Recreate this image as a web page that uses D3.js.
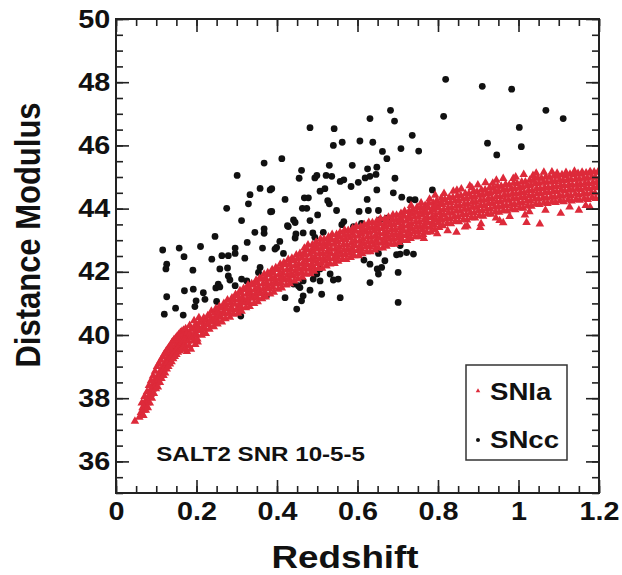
<!DOCTYPE html>
<html>
<head>
<meta charset="utf-8">
<script src="https://cdn.jsdelivr.net/npm/d3@7"></script>
<style>
  body { margin: 0; background: #fff; }
</style>
</head>
<body>
<div id="chart"></div>
<script>
// axis ticks
var xTicks = [0, 0.2, 0.4, 0.6, 0.8, 1, 1.2];
var xTickLabels = ["0", "0.2", "0.4", "0.6", "0.8", "1", "1.2"];
var yTicks = [36, 38, 40, 42, 44, 46, 48, 50];
var yTickLabels = ["36", "38", "40", "42", "44", "46", "48", "50"];

// SNcc : [redshift, distance modulus]
var snCc = [
  [0.819,48.09],[0.910,47.87],[0.983,47.78],[0.814,46.92],[1.068,47.11],[1.111,46.85],[1.002,46.57],[0.736,46.32],
  [0.923,46.07],[1.007,45.96],[0.708,45.90],[0.752,45.82],[0.946,45.70],[0.786,44.59],[0.710,44.36],[0.730,44.28],[0.743,44.28],
  [0.682,47.11],[0.631,46.85],[0.692,46.77],[0.482,46.56],[0.542,46.53],[0.540,46.00],[0.562,46.10],[0.606,46.14],[0.638,46.10],
  [0.662,45.81],[0.673,45.58],[0.412,45.58],[0.530,45.37],[0.587,45.37],[0.461,45.21],[0.625,45.26],[0.648,45.31],[0.455,44.96],
  [0.494,44.97],[0.499,45.05],[0.522,45.05],[0.536,45.02],[0.557,44.86],[0.566,44.91],[0.584,44.70],[0.602,44.83],[0.619,44.97],
  [0.631,45.02],[0.646,45.08],[0.693,44.96],[0.387,44.63],[0.507,44.55],[0.519,44.63],[0.648,44.59],[0.689,44.50],[0.420,44.29],
  [0.468,44.34],[0.478,44.34],[0.624,44.29],[0.526,44.25],[0.530,44.15],[0.387,43.91],[0.463,44.01],[0.474,44.01],[0.548,43.94],
  [0.604,43.91],[0.627,43.94],[0.652,43.94],[0.501,43.80],[0.482,43.62],[0.441,43.64],[0.426,43.46],[0.566,43.59],[0.561,43.49],
  [0.590,43.43],[0.610,43.53],[0.673,43.70],[0.656,43.65],[0.447,43.20],[0.465,43.23],[0.489,43.23],[0.494,43.09],[0.515,43.25],
  [0.407,42.96],[0.399,42.77],[0.416,42.58],[0.652,42.58],[0.668,42.35],[0.697,42.54],[0.631,42.24],[0.649,42.09],[0.652,41.93],
  [0.701,41.98],[0.616,42.37],[0.507,42.09],[0.499,41.93],[0.507,41.71],[0.540,41.74],[0.552,41.77],[0.631,41.66],[0.465,41.71],
  [0.453,41.56],[0.441,41.61],[0.482,41.42],[0.511,41.29],[0.557,41.18],[0.420,41.18],
  [0.368,45.44],[0.301,45.05],[0.358,44.64],[0.383,44.59],[0.333,44.44],[0.329,44.15],[0.275,44.01],[0.384,43.90],[0.312,43.62],
  [0.345,43.25],[0.368,43.36],[0.368,43.22],[0.246,43.12],[0.326,42.93],[0.210,42.80],[0.157,42.75],[0.116,42.69],[0.364,42.75],
  [0.296,42.75],[0.296,42.58],[0.263,42.51],[0.279,42.51],[0.238,42.40],[0.320,42.43],[0.169,42.48],[0.126,42.24],[0.124,42.09],
  [0.191,42.05],[0.258,42.09],[0.277,42.12],[0.279,41.87],[0.283,41.74],[0.358,42.14],[0.354,41.98],[0.312,41.77],[0.325,41.71],
  [0.395,42.72],[0.254,41.61],[0.248,41.49],[0.258,41.52],[0.296,41.56],[0.170,41.40],[0.192,41.45],[0.217,41.34],[0.126,41.21],
  [0.199,41.08],[0.196,40.90],[0.221,41.13],[0.148,40.85],[0.167,40.63],[0.120,40.66],[0.310,40.60],[0.374,41.24],[0.145,39.81],
  [0.250,41.06],[0.428,43.43],[0.445,43.56],[0.445,43.07],[0.457,41.50],[0.465,41.24],[0.461,41.08],[0.449,40.82],[0.532,41.93],
  [0.490,41.77],[0.701,41.03],[0.706,42.56],[0.722,42.61],[0.739,42.56],[0.706,42.83],[0.660,42.14]
];

// SNIa : [redshift, distance modulus]
var snIa = [
  [0.047,37.27],[0.062,37.55],[0.066,37.70],[0.069,37.62],[0.072,37.80],[0.075,37.95],[0.078,37.85],[0.081,38.05],[0.083,38.20],
  [0.086,38.12],[0.088,38.30],[0.091,38.28],[0.093,38.45],[0.096,38.38],[0.098,38.60],[0.101,38.48],[0.103,38.66],[0.105,38.58],
  [0.108,38.80],[0.110,38.70],[0.112,38.90],[0.114,38.82],[0.117,39.00],[0.119,38.92],[0.121,39.10],[0.123,39.02],[0.125,39.20],
  [0.127,39.12],[0.129,39.30],[0.131,39.18],[0.133,39.38],[0.135,39.28],[0.137,39.45],[0.139,39.35],[0.141,39.52],[0.143,39.43],
  [0.145,39.60],[0.147,39.50],[0.149,39.66],[0.151,39.56],[0.153,39.74],[0.155,39.62],[0.157,39.80],[0.159,39.70],[0.161,39.86],
  [0.163,39.74],[0.165,39.92],[0.167,39.80],[0.169,39.98],[0.170,39.66],
  [0.058,37.40],[0.064,37.85],[0.068,37.45],[0.071,38.05],[0.074,37.62],[0.077,38.20],[0.079,37.70],[0.082,38.40],[0.084,37.85],
  [0.087,38.55],[0.089,38.00],[0.092,38.70],[0.094,38.15],[0.097,38.85],[0.099,38.30],[0.102,39.00],[0.104,38.35],[0.107,39.10],
  [0.109,38.50],[0.111,39.20],[0.113,38.62],[0.116,39.30],[0.118,38.72],[0.120,39.40],[0.122,38.80],[0.124,39.48],[0.126,38.92],
  [0.128,39.55],[0.130,39.00],[0.132,39.62],[0.134,39.08],[0.136,39.70],[0.138,39.15],[0.140,39.78],[0.142,39.25],[0.144,39.85],
  [0.146,39.32],[0.148,39.90],[0.150,39.38],[0.152,39.96],[0.154,39.45],[0.156,40.02],[0.158,39.50],[0.160,40.08],[0.162,39.55],
  [0.164,40.12],[0.166,39.60],[0.168,40.15],[0.173,40.20],[0.176,39.48],[0.183,40.30],[0.186,39.55],[0.194,40.45],[0.197,39.70],
  [0.206,40.55],[0.203,39.78],
  [0.171,39.70],[0.175,39.95],[0.172,39.55],[0.177,40.07],[0.174,39.83],
  [0.180,39.80],[0.184,40.05],[0.182,39.65],[0.187,40.18],[0.185,39.92],
  [0.191,39.94],[0.195,40.20],[0.193,39.82],[0.198,40.34],[0.196,40.08],
  [0.200,40.01],[0.204,40.27],[0.202,39.87],[0.207,40.40],[0.205,40.15],
  [0.211,40.14],[0.215,40.40],[0.213,39.99],[0.218,40.54],[0.216,40.27],
  [0.221,40.20],[0.225,40.47],[0.223,40.05],[0.228,40.61],[0.226,40.33],
  [0.230,40.33],[0.234,40.59],[0.232,40.18],[0.237,40.75],[0.235,40.46],
  [0.241,40.41],[0.245,40.69],[0.243,40.26],[0.248,40.83],[0.246,40.55],
  [0.250,40.49],[0.254,40.76],[0.252,40.35],[0.257,40.90],[0.255,40.62],
  [0.261,40.56],[0.265,40.85],[0.263,40.41],[0.268,41.00],[0.266,40.71],
  [0.270,40.67],[0.274,40.96],[0.272,40.51],[0.277,41.11],[0.275,40.82],
  [0.281,40.71],[0.285,41.01],[0.283,40.56],[0.288,41.17],[0.286,40.86],
  [0.290,40.81],[0.294,41.12],[0.292,40.66],[0.297,41.28],[0.295,40.97],
  [0.301,40.83],[0.305,41.11],[0.303,40.69],[0.308,41.40],[0.306,40.97],[0.302,41.25],
  [0.310,40.90],[0.314,41.18],[0.312,40.75],[0.317,41.47],[0.315,41.04],[0.311,41.32],
  [0.321,41.01],[0.325,41.29],[0.323,40.86],[0.328,41.58],[0.326,41.15],[0.322,41.43],
  [0.330,41.05],[0.334,41.33],[0.332,40.90],[0.337,41.62],[0.335,41.19],[0.331,41.47],
  [0.341,41.16],[0.345,41.44],[0.343,41.00],[0.348,41.73],[0.346,41.30],[0.342,41.58],
  [0.350,41.20],[0.354,41.50],[0.352,41.05],[0.357,41.80],[0.355,41.35],[0.351,41.65],
  [0.361,41.31],[0.365,41.61],[0.363,41.15],[0.368,41.92],[0.366,41.46],[0.362,41.76],
  [0.370,41.35],[0.374,41.66],[0.372,41.20],[0.377,41.97],[0.375,41.51],[0.371,41.81],
  [0.381,41.46],[0.385,41.76],[0.383,41.30],[0.388,42.07],[0.386,41.61],[0.382,41.91],
  [0.390,41.51],[0.394,41.81],[0.392,41.35],[0.397,42.13],[0.395,41.66],[0.391,41.97],
  [0.401,41.61],[0.405,41.91],[0.403,41.45],[0.408,42.24],[0.406,41.76],[0.402,42.07],
  [0.410,41.65],[0.414,41.97],[0.412,41.49],[0.417,42.29],[0.415,41.81],[0.411,42.13],
  [0.421,41.74],[0.425,42.06],[0.423,41.58],[0.428,42.39],[0.426,41.90],[0.422,42.22],
  [0.430,41.78],[0.434,42.10],[0.432,41.62],[0.437,42.43],[0.435,41.94],[0.431,42.26],
  [0.441,41.87],[0.445,42.19],[0.443,41.71],[0.448,42.53],[0.446,42.03],[0.442,42.35],
  [0.450,41.93],[0.454,42.25],[0.452,41.77],[0.457,42.58],[0.455,42.09],[0.451,42.41],
  [0.461,41.98],[0.465,42.29],[0.463,41.83],[0.468,42.75],[0.466,42.14],[0.462,42.45],[0.467,42.60],
  [0.470,42.08],[0.474,42.39],[0.472,41.92],[0.477,42.85],[0.475,42.23],[0.471,42.54],[0.476,42.69],
  [0.481,42.10],[0.485,42.40],[0.483,41.94],[0.488,42.86],[0.486,42.25],[0.482,42.56],[0.487,42.71],
  [0.490,42.17],[0.494,42.48],[0.492,42.02],[0.497,42.94],[0.495,42.33],[0.491,42.64],[0.496,42.79],
  [0.501,42.26],[0.505,42.57],[0.503,42.10],[0.508,43.03],[0.506,42.41],[0.502,42.72],[0.507,42.87],
  [0.510,42.27],[0.514,42.57],[0.512,42.11],[0.517,43.03],[0.515,42.42],[0.511,42.73],[0.516,42.88],
  [0.521,42.33],[0.525,42.64],[0.523,42.18],[0.528,43.10],[0.526,42.49],[0.522,42.80],[0.527,42.95],
  [0.530,42.41],[0.534,42.72],[0.532,42.25],[0.537,43.18],[0.535,42.56],[0.531,42.87],[0.536,43.02],
  [0.541,42.42],[0.545,42.72],[0.543,42.26],[0.548,43.18],[0.546,42.57],[0.542,42.88],[0.547,43.03],
  [0.550,42.48],[0.554,42.79],[0.552,42.33],[0.557,43.25],[0.555,42.64],[0.551,42.95],[0.556,43.10],
  [0.561,42.55],[0.565,42.86],[0.563,42.39],[0.568,43.32],[0.566,42.70],[0.562,43.01],[0.567,43.16],
  [0.570,42.55],[0.574,42.85],[0.572,42.39],[0.577,43.31],[0.575,42.70],[0.571,43.01],[0.576,43.16],
  [0.581,42.60],[0.585,42.91],[0.583,42.45],[0.588,43.37],[0.586,42.76],[0.582,43.07],[0.587,43.22],
  [0.590,42.67],[0.594,42.98],[0.592,42.51],[0.597,43.44],[0.595,42.82],[0.591,43.13],[0.596,43.28],
  [0.601,42.67],[0.605,42.97],[0.603,42.51],[0.608,43.43],[0.606,42.82],[0.602,43.13],[0.607,43.28],
  [0.610,42.72],[0.614,43.03],[0.612,42.57],[0.617,43.49],[0.615,42.88],[0.611,43.19],[0.616,43.34],
  [0.621,42.79],[0.625,43.10],[0.623,42.63],[0.628,43.56],[0.626,42.94],[0.622,43.25],[0.627,43.40],
  [0.630,42.79],[0.634,43.09],[0.632,42.63],[0.637,43.55],[0.635,42.94],[0.631,43.25],[0.636,43.40],
  [0.641,42.84],[0.645,43.15],[0.643,42.69],[0.648,43.61],[0.646,43.00],[0.642,43.31],[0.647,43.46],
  [0.650,42.91],[0.654,43.22],[0.652,42.75],[0.657,43.68],[0.655,43.06],[0.651,43.37],[0.656,43.52],
  [0.661,42.91],[0.665,43.21],[0.663,42.75],[0.668,43.67],[0.666,43.06],[0.662,43.37],[0.667,43.52],
  [0.670,42.96],[0.674,43.27],[0.672,42.81],[0.677,43.73],[0.675,43.12],[0.671,43.43],[0.676,43.58],
  [0.681,43.03],[0.685,43.34],[0.683,42.87],[0.688,43.80],[0.686,43.18],[0.682,43.49],[0.687,43.64],
  [0.690,43.03],[0.694,43.33],[0.692,42.87],[0.697,43.79],[0.695,43.18],[0.691,43.49],[0.696,43.64],
  [0.701,43.08],[0.705,43.39],[0.703,42.93],[0.708,43.85],[0.706,43.24],[0.702,43.55],[0.707,43.70],
  [0.710,43.15],[0.714,43.46],[0.712,42.99],[0.717,43.92],[0.715,43.30],[0.711,43.61],[0.716,43.76],
  [0.721,43.15],[0.725,43.45],[0.723,42.99],[0.728,43.91],[0.726,43.30],[0.722,43.61],[0.727,43.76],
  [0.730,43.20],[0.734,43.51],[0.732,43.05],[0.737,43.97],[0.735,43.36],[0.731,43.67],[0.736,43.82],
  [0.741,43.27],[0.745,43.58],[0.743,43.11],[0.748,44.04],[0.746,43.42],[0.742,43.73],[0.747,43.88],
  [0.750,43.27],[0.754,43.57],[0.752,43.11],[0.757,44.03],[0.755,43.42],[0.751,43.73],[0.756,43.88],
  [0.761,43.33],[0.765,43.64],[0.763,43.18],[0.768,44.10],[0.766,43.49],[0.762,43.80],[0.767,43.95],
  [0.770,43.41],[0.774,43.72],[0.772,43.25],[0.777,44.18],[0.775,43.56],[0.771,43.87],[0.776,44.02],
  [0.781,43.42],[0.785,43.72],[0.783,43.26],[0.788,44.18],[0.786,43.57],[0.782,43.88],[0.787,44.03],
  [0.790,43.48],[0.794,43.79],[0.792,43.33],[0.797,44.25],[0.795,43.64],[0.791,43.95],[0.796,44.10],
  [0.801,43.56],[0.805,43.87],[0.803,43.40],[0.808,44.33],[0.806,43.71],[0.802,44.02],[0.807,44.17],
  [0.810,43.63],[0.814,43.96],[0.812,43.46],[0.817,44.29],[0.815,43.80],[0.811,44.13],
  [0.821,43.69],[0.825,44.02],[0.823,43.53],[0.828,44.35],[0.826,43.86],[0.822,44.18],[0.824,43.30],
  [0.830,43.69],[0.834,44.02],[0.832,43.52],[0.837,44.35],[0.835,43.86],[0.831,44.19],
  [0.841,43.75],[0.845,44.08],[0.843,43.59],[0.848,44.41],[0.846,43.92],[0.842,44.24],[0.847,44.58],
  [0.850,43.75],[0.854,44.08],[0.852,43.58],[0.857,44.41],[0.855,43.92],[0.851,44.25],
  [0.861,43.81],[0.865,44.14],[0.863,43.65],[0.868,44.47],[0.866,43.98],[0.862,44.30],[0.867,43.42],
  [0.870,43.81],[0.874,44.14],[0.872,43.64],[0.877,44.47],[0.875,43.98],[0.871,44.31],
  [0.881,43.87],[0.885,44.20],[0.883,43.71],[0.888,44.53],[0.886,44.04],[0.882,44.36],[0.884,44.66],
  [0.890,43.87],[0.894,44.20],[0.892,43.70],[0.897,44.53],[0.895,44.04],[0.891,44.37],
  [0.901,43.93],[0.905,44.26],[0.903,43.77],[0.908,44.59],[0.906,44.10],[0.902,44.42],[0.907,43.52],
  [0.910,43.93],[0.914,44.26],[0.912,43.76],[0.917,44.59],[0.915,44.10],[0.911,44.43],
  [0.921,43.99],[0.925,44.32],[0.923,43.83],[0.928,44.65],[0.926,44.16],[0.922,44.48],
  [0.930,43.99],[0.934,44.32],[0.932,43.82],[0.937,44.65],[0.935,44.16],[0.931,44.49],[0.936,44.80],
  [0.941,44.05],[0.945,44.38],[0.943,43.89],[0.948,44.71],[0.946,44.22],[0.942,44.54],
  [0.950,44.05],[0.954,44.38],[0.952,43.88],[0.957,44.71],[0.955,44.22],[0.951,44.55],[0.953,43.62],
  [0.961,44.10],[0.965,44.43],[0.963,43.94],[0.968,44.76],[0.966,44.27],[0.962,44.59],
  [0.970,44.09],[0.974,44.42],[0.972,43.92],[0.977,44.75],[0.975,44.26],[0.971,44.59],
  [0.981,44.14],[0.985,44.47],[0.983,43.98],[0.988,44.80],[0.986,44.31],[0.982,44.63],[0.987,44.95],
  [0.990,44.13],[0.994,44.46],[0.992,43.96],[0.997,44.79],[0.995,44.30],[0.991,44.63],
  [1.001,44.18],[1.005,44.51],[1.003,44.02],[1.008,44.84],[1.006,44.35],[1.002,44.67],
  [1.010,44.18],[1.014,44.51],[1.012,44.01],[1.017,44.84],[1.015,44.35],[1.011,44.68],[1.016,43.80],
  [1.021,44.24],[1.025,44.57],[1.023,44.08],[1.028,44.90],[1.026,44.41],[1.022,44.73],
  [1.030,44.24],[1.034,44.57],[1.032,44.07],[1.037,44.90],[1.035,44.41],[1.031,44.74],[1.036,45.05],
  [1.041,44.30],[1.045,44.63],[1.043,44.14],[1.048,44.96],[1.046,44.47],[1.042,44.79],
  [1.050,44.30],[1.054,44.63],[1.052,44.13],[1.057,44.96],[1.055,44.47],[1.051,44.80],
  [1.061,44.34],[1.065,44.67],[1.063,44.18],[1.068,45.00],[1.066,44.51],[1.062,44.83],[1.067,43.95],
  [1.070,44.33],[1.074,44.66],[1.072,44.16],[1.077,44.99],[1.075,44.50],[1.071,44.83],
  [1.081,44.37],[1.085,44.70],[1.083,44.21],[1.088,45.03],[1.086,44.54],[1.082,44.86],
  [1.090,44.36],[1.094,44.69],[1.092,44.19],[1.097,45.02],[1.095,44.53],[1.091,44.86],[1.096,45.12],
  [1.101,44.41],[1.105,44.74],[1.103,44.25],[1.108,45.07],[1.106,44.58],[1.102,44.90],
  [1.110,44.39],[1.114,44.72],[1.112,44.22],[1.117,45.05],[1.115,44.56],[1.111,44.89],
  [1.121,44.43],[1.125,44.76],[1.123,44.27],[1.128,45.09],[1.126,44.60],[1.122,44.92],[1.127,44.05],
  [1.130,44.41],[1.134,44.74],[1.132,44.24],[1.137,45.07],[1.135,44.58],[1.131,44.91],
  [1.141,44.45],[1.145,44.78],[1.143,44.29],[1.148,45.11],[1.146,44.62],[1.142,44.94],
  [1.150,44.43],[1.154,44.76],[1.152,44.26],[1.157,45.09],[1.155,44.60],[1.151,44.93],
  [1.161,44.47],[1.165,44.80],[1.163,44.31],[1.168,45.13],[1.166,44.64],[1.162,44.96],[1.167,44.10],
  [1.170,44.46],[1.174,44.79],[1.172,44.29],[1.177,45.12],[1.175,44.63],[1.171,44.96],
  [1.181,44.50],[1.185,44.83],[1.183,44.34],[1.188,45.16],[1.186,44.67],[1.182,44.99],
  [1.190,44.49],[1.194,44.82],[1.192,44.32],[1.197,45.15],[1.195,44.66],[1.191,44.99],
  // scattered SNIa above and below the main band
  [0.733,44.10],[0.758,44.18],[0.779,44.30],[0.793,44.42],[0.815,44.48],[0.838,44.55],[0.858,44.62],[0.879,44.72],
  [0.899,44.75],[0.918,44.82],[0.945,44.90],[0.962,44.95],[0.993,45.00],[1.013,45.08],[1.044,45.12],[1.063,45.15],
  [1.083,45.16],[1.118,45.14],[1.139,45.18],[1.158,45.15],[1.178,45.17],
  [0.846,43.25],[0.905,43.40],[0.962,43.55],[1.020,43.56],[1.053,43.51],[1.105,43.85],[1.150,43.95],[1.178,44.04],
  [0.765,43.05],[0.798,43.20],[0.873,43.45],[0.944,43.70],[0.978,43.75],[1.027,43.90]
];

var W = 622, H = 575;
var FONT = "'Liberation Sans', Arial, Helvetica, sans-serif";
var STRETCH = "scale(1.15,1)";
var red = "#dd2a3a";

var x = d3.scaleLinear().domain([0, 1.2]).range([116, 599]);
var y = d3.scaleLinear().domain([35, 50]).range([493, 19]);

var svg = d3.select("#chart").append("svg")
            .attr("width", W)
            .attr("height", H)
            .style("background", "#fff");

svg.append("clipPath").attr("id", "plotclip")
   .append("rect")
   .attr("x", x(0)).attr("y", y(50))
   .attr("width", x(1.2) - x(0)).attr("height", y(35) - y(50));

// points: SNcc first, SNIa on top
var pts = svg.append("g").attr("clip-path", "url(#plotclip)");

pts.append("g").selectAll("circle").data(snCc)
   .enter().append("circle")
   .attr("cx", d => x(d[0]))
   .attr("cy", d => y(d[1]))
   .attr("r", 3.4)
   .attr("fill", "#111");

var tri = d3.symbol().type(d3.symbolTriangle).size(32);
pts.append("g").selectAll("path").data(snIa)
   .enter().append("path")
   .attr("d", tri)
   .attr("transform", d => `translate(${x(d[0])},${y(d[1])})`)
   .attr("fill", red);

// ticks on all four sides, pointing inward
function addAxis(axis, tr) {
  var g = svg.append("g").attr("transform", tr).call(axis);
  g.select(".domain").remove();
  g.selectAll(".tick line").attr("stroke", "#222").attr("stroke-width", 1.6);
  return g;
}

var xMinor = x.ticks(24), yMinor = y.ticks(30);

addAxis(d3.axisBottom(x).tickValues(xMinor).tickSize(-7).tickFormat(""), `translate(0,${y(35)})`);
addAxis(d3.axisTop(x).tickValues(xMinor).tickSize(-7).tickFormat(""), `translate(0,${y(50)})`);
addAxis(d3.axisLeft(y).tickValues(yMinor).tickSize(-7).tickFormat(""), `translate(${x(0)},0)`);
addAxis(d3.axisRight(y).tickValues(yMinor).tickSize(-7).tickFormat(""), `translate(${x(1.2)},0)`);
addAxis(d3.axisTop(x).tickValues(xTicks).tickSize(-13).tickFormat(""), `translate(0,${y(50)})`);
addAxis(d3.axisRight(y).tickValues(yTicks).tickSize(-13).tickFormat(""), `translate(${x(1.2)},0)`);

var gx = addAxis(d3.axisBottom(x).tickValues(xTicks).tickSize(-13).tickPadding(9)
                   .tickFormat((d, i) => xTickLabels[i]), `translate(0,${y(35)})`);
var gy = addAxis(d3.axisLeft(y).tickValues(yTicks).tickSize(-13).tickPadding(5)
                   .tickFormat((d, i) => yTickLabels[i]), `translate(${x(0)},0)`);

[gx, gy].forEach(g => {
  g.selectAll("text")
   .attr("font-family", FONT)
   .attr("font-weight", "bold")
   .attr("font-size", 25)
   .attr("fill", "#111")
   .attr("transform", STRETCH);
});

// frame
svg.append("rect")
   .attr("x", x(0)).attr("y", y(50))
   .attr("width", x(1.2) - x(0)).attr("height", y(35) - y(50))
   .attr("fill", "none")
   .attr("stroke", "#222")
   .attr("stroke-width", 2);

function label(txt, px, py, size, anchor, rot) {
  return svg.append("text")
            .attr("transform", `translate(${px},${py}) ${STRETCH}` + (rot ? ` rotate(${rot})` : ""))
            .attr("text-anchor", anchor)
            .attr("font-family", FONT)
            .attr("font-weight", "bold")
            .attr("font-size", size)
            .attr("fill", "#111")
            .text(txt);
}

label("Redshift", 345, 568, 32, "middle");
label("Distance Modulus", 40, 235, 31, "middle", -90);
label("SALT2 SNR 10-5-5", x(0.1), y(36), 21, "start");

// legend
var lg = svg.append("g");
lg.append("rect")
  .attr("x", 466).attr("y", 365)
  .attr("width", 101).attr("height", 95)
  .attr("fill", "#fff")
  .attr("stroke", "#333")
  .attr("stroke-width", 1.5);
lg.append("path")
  .attr("d", d3.symbol().type(d3.symbolTriangle).size(9))
  .attr("transform", "translate(478,391)")
  .attr("fill", red);
lg.append("circle")
  .attr("cx", 478).attr("cy", 440).attr("r", 2)
  .attr("fill", "#111");
label("SNIa", 490, 400, 24, "start");
label("SNcc", 490, 448, 24, "start");
</script>
</body>
</html>
